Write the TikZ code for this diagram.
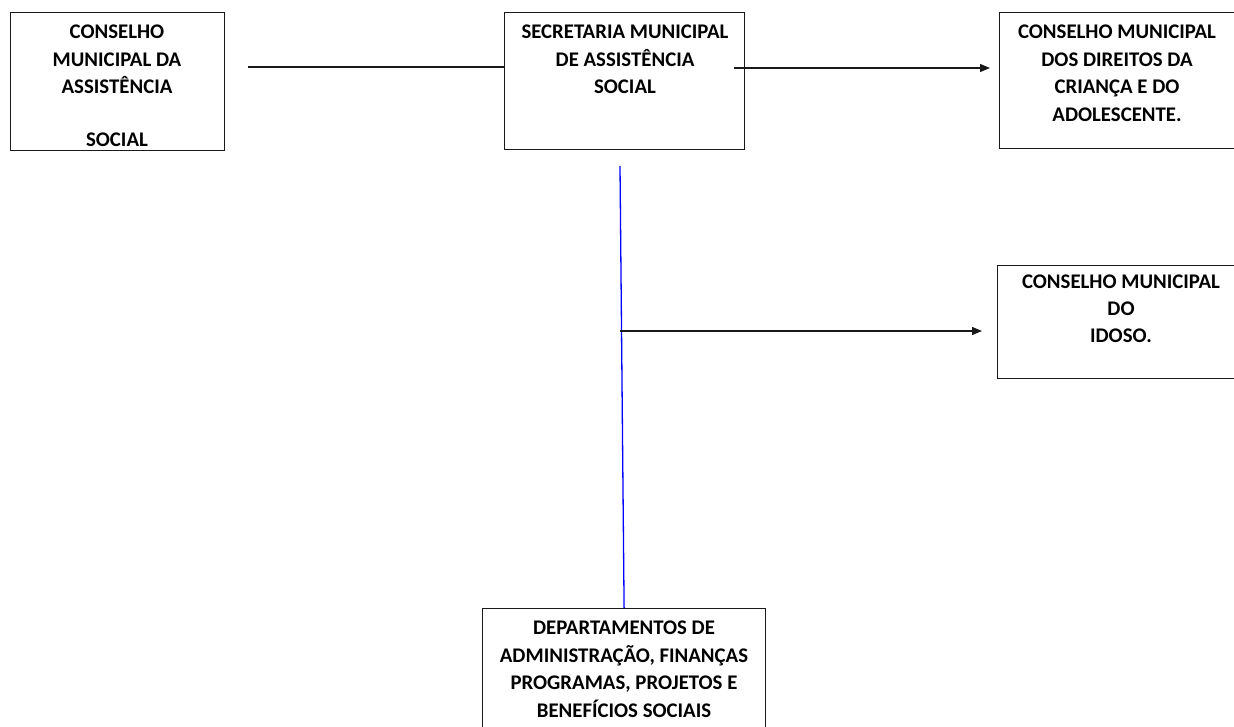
\documentclass[tikz,border=0pt]{standalone}
\usepackage{fontspec}
\setmainfont{Carlito}
\usetikzlibrary{arrows.meta}
\begin{document}
\begin{tikzpicture}[x=1pt,y=-1pt,
  box/.style={draw=black!90,line width=1.2pt,inner sep=0pt,anchor=north west},
  lbl/.style={align=center,font=\fontsize{20.8}{27.5}\selectfont\bfseries,inner sep=0pt,anchor=north},
  conn/.style={line width=1.2pt,draw=black!90},
  arr/.style={conn,-{Triangle[length=10pt,width=8pt]}}]
\useasboundingbox (0,0) rectangle (1234,727);
% boxes
\node[box,minimum width=214,minimum height=138] (b1) at (10,12) {};
\node[box,minimum width=240,minimum height=137] (b2) at (504,12) {};
\node[box,minimum width=260,minimum height=136] (b3) at (999,12) {};
\node[box,minimum width=260,minimum height=113] (b4) at (997,265) {};
\node[box,minimum width=283,minimum height=140] (b5) at (482,608) {};
% texts
\node[lbl] (t1) at (117,25) {CONSELHO\\MUNICIPAL DA\\ASSISTÊNCIA\\[25pt]SOCIAL};
\node[lbl] (t2) at (625,25) {SECRETARIA MUNICIPAL\\DE ASSISTÊNCIA\\SOCIAL};
\node[lbl] (t3) at (1117,25) {CONSELHO MUNICIPAL\\DOS DIREITOS DA\\CRIANÇA E DO\\ADOLESCENTE.};
\node[lbl] (t4) at (1121,275) {CONSELHO MUNICIPAL\\[-1pt]DO\\IDOSO.};
\node[lbl] (t5) at (624,621) {DEPARTAMENTOS DE\\ADMINISTRAÇÃO, FINANÇAS\\PROGRAMAS, PROJETOS E\\BENEFÍCIOS SOCIAIS};
% connectors
\coordinate (s1) at (248,67);
\draw[conn] (s1) -- (s1 -| b2.west);
\coordinate (s2) at (734,68);
\coordinate (e2) at (990,68);
\draw[arr] (s2) -- (e2);
\coordinate (s3) at (620,166);
\draw[line width=1.3pt,draw=blue] (s3) -- (b5.north);
\coordinate (s4) at (620,331);
\coordinate (e4) at (982,331);
\draw[arr] (s4) -- (e4);
\end{tikzpicture}
\end{document}
